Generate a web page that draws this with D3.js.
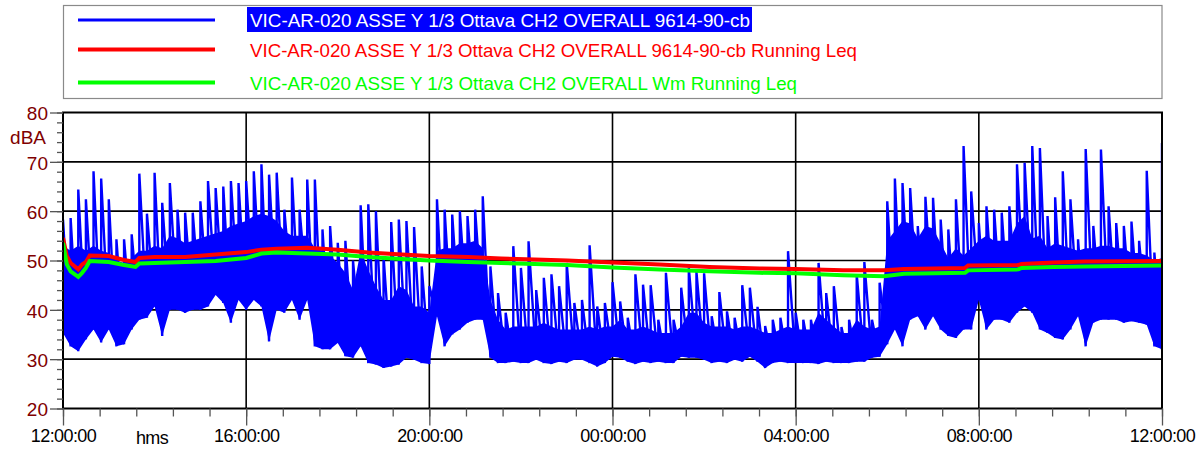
<!DOCTYPE html>
<html>
<head>
<meta charset="utf-8">
<script src="https://cdn.jsdelivr.net/npm/d3@7/dist/d3.min.js"></script>
<style>
  body { margin: 0; background: #fff; }
  svg { display: block; font-family: "Liberation Sans", Arial, sans-serif; }
</style>
</head>
<body>
<svg id="chart" width="1200" height="452"></svg>
<script>
// legend names
var seriesNames = [
  "VIC-AR-020 ASSE Y 1/3 Ottava CH2 OVERALL 9614-90-cb",
  "VIC-AR-020 ASSE Y 1/3 Ottava CH2 OVERALL 9614-90-cb Running Leq",
  "VIC-AR-020 ASSE Y 1/3 Ottava CH2 OVERALL Wm Running Leq"
];
var seriesColors = ["#0000ff", "#ff0000", "#00ff00"];

// blue level, one sample every 10 min from 12:00:00 (peak, top of dense band, floor) in dBA
var stepMin = 10;
var levelPeak = [58.3,58.6,64.4,62.4,68.1,66.6,62.4,54.3,54.3,55.3,67.6,59.5,67.8,61.7,65.7,60.3,59.7,59.7,62,66.1,
  64.7,65,66.1,65.7,66.1,68.1,69.5,67.4,67.8,60.3,66.8,60.3,66.4,66.4,56.3,57,53.6,54,50,61.2,
  61.4,60,50.9,57.8,58.3,58,56.8,48.8,44.8,62.4,60.3,59.3,60,59,60.3,63,48.8,43.4,39.4,52.9,
  48.5,53.9,44,46.5,47.2,44.8,49.5,41.4,42,53.1,40.7,41.4,45.6,41.7,38.4,47.2,45.1,45,38,47.5,
  38,44.5,48.5,47.7,47.4,38.7,43.6,39.7,38.4,45,44.5,40.6,36.7,38,38.4,51.9,39.4,38,38,49.5,
  43.4,44.8,36.5,38,47.2,49.7,38,45.5,62,66.6,65.7,64.7,57,62.9,62.7,58.3,56.3,62.4,73.2,64,
  57.6,61,60.3,59.7,61,69.5,69.8,73.2,72.8,59,62.8,68.1,62.4,54.3,72.6,57,72.5,61,57.6,57,
  57.9,54,68.2,51.6,73.8];
var levelBand = [53,52,53,52,53,52,51.5,50,49.5,50.5,52,52,53,52.5,55,54.5,53.5,54,54.5,55,
  55.5,56,57,57.5,58,59,59.5,59,58,56,55,55,55,52.5,52,51,49.5,47.5,44,52,
  48,44.8,42,42,44.8,44,40.7,40.7,39.4,52,52.5,52.5,53.5,53.5,54,52.5,42,38,36,36.6,
  36.6,36.6,36.6,37.4,36.6,36,36,36,36,36.6,36,36.6,36.6,38,36,36,36.6,36,35.3,35.3,
  35.3,36.6,39.4,39.4,37.4,36.6,36.6,36.6,36,36.6,36.6,36,35.3,35.3,36,36.6,36,36,36,39.4,
  38,36.6,35.3,35.3,38,36.6,36,36.6,54,56,58,57.5,54.5,57,56.5,53.5,50.5,52.5,51,52.5,
  54,55,54,54,54,57.5,59,54.5,55,52.5,53.5,53,52.5,52,52.5,52.5,53,53,52.5,52.5,
  51.5,51.5,51,50,50.5];
var levelFloor = [35.3,32.6,31.6,34,36,33.4,36,32.6,33,36,38,38.4,40.7,34.7,40,40,39.4,40,40,40.7,
  43,41.4,37.4,42,40,42,40.7,33.6,40,39.4,42,38,42,32.6,32,32,33.3,30.6,30.3,32.6,
  29.2,28.9,28.2,28.5,28.9,30.3,29.9,29.2,29,38.7,32.6,35,36,37.4,38,38,30.3,29.2,29.2,29.5,
  29.2,29.2,29.9,29.2,29,29.5,29.2,29.9,29.9,29.2,28.5,29.2,30.5,30.3,29.5,29,29.5,29.2,29.5,29.2,
  29.2,30.5,30.3,30.3,29.9,29.2,29.5,29.2,29.9,29.5,30.5,29.5,28.2,29.2,29.5,29.2,29.2,29.2,29.2,29,
  29.5,29.2,29.2,29.2,29.5,29.5,30.3,30.5,33,36,32.6,38,38.7,36,38.7,36,34.7,34.3,36,36,
  42,36,38,38,37.4,39.4,40.7,39.4,36,35.3,34.3,34,36,38.7,32.6,37.4,38,38,38,37.4,
  37.7,37.4,37,32.6,32];

// running Leq lines, minutes after 12:00:00
var leqMinutes = [0,5,10,20,25,30,35,60,80,95,100,120,160,200,240,260,280,320,360,400,
  444,480,531,574,618,661,720,782,847,913,960,1022,1076,1102,1182,1186,1252,1256,1298,1338,1440];
var leqRunning = [54.6,50.9,49.5,48.2,49.2,49.7,51,50.9,50.1,49.7,50.5,50.7,50.7,51.2,51.7,52.2,52.4,52.6,52.2,51.6,
  51.2,50.9,50.7,50.4,50.2,50,49.6,49.2,48.7,48.4,48.3,48,48,48.3,48.5,49,49.1,49.3,49.6,49.8,49.9];
var leqWm = [53.6,49.2,47.8,46.7,47.5,48.5,49.9,49.7,49.1,48.7,49.4,49.5,49.7,49.9,50.5,51.4,51.6,51.4,51.2,50.7,
  50.3,50,49.7,49.5,49.3,49.1,48.6,48.2,47.8,47.5,47.4,47,46.8,47.3,47.5,48,48.2,48.5,48.7,48.8,49];

var yTicks = [20, 30, 40, 50, 60, 70, 80];
var yUnit = "dBA";
var xUnit = "hms";

var svg = d3.select("#chart");
var pLeft = 63, pRight = 1162, pTop = 112.5, pBottom = 408.5;

var t0 = new Date(2000, 0, 1, 12, 0, 0);
function at(min) { return d3.timeMinute.offset(t0, min); }
var t1 = at(1440);
var x = d3.scaleTime().domain([t0, t1]).range([pLeft, pRight]);
var y = d3.scaleLinear().domain([20, 80]).range([pBottom, pTop]);
var majorX = d3.range(0, 1441, 240).map(at);
var minorX = d3.range(0, 1441, 48).map(at);

// legend box
var lg = svg.append("g");
lg.append("rect").attr("x", 63.5).attr("y", 5.5).attr("width", 1098.5).attr("height", 93)
  .attr("fill", "#fff").attr("stroke", "#8a8a8a").attr("stroke-width", 1.2);
var legY = [20, 49.5, 82.5];
var legW = [500, 607, 547];
lg.append("rect").attr("x", 247).attr("y", 7).attr("width", 505).attr("height", 25).attr("fill", "#0000ff");
seriesNames.forEach(function(name, i) {
  lg.append("line").attr("x1", 78).attr("x2", 215).attr("y1", legY[i]).attr("y2", legY[i])
    .attr("stroke", seriesColors[i]).attr("stroke-width", i == 0 ? 3 : 4);
  lg.append("text").attr("x", 250).attr("y", legY[i] + 7)
    .attr("font-size", 19).attr("textLength", legW[i]).attr("lengthAdjust", "spacingAndGlyphs")
    .attr("fill", i == 0 ? "#fff" : seriesColors[i]).text(name);
});

// grid
var grid = svg.append("g").attr("stroke", "#000").attr("stroke-width", 1.6);
grid.selectAll(".h").data(yTicks.slice(1, -1)).enter().append("line")
  .attr("x1", pLeft).attr("x2", pRight).attr("y1", function(d) { return y(d); }).attr("y2", function(d) { return y(d); });
grid.selectAll(".v").data(majorX.slice(1, -1)).enter().append("line")
  .attr("y1", pTop).attr("y2", pBottom).attr("x1", function(d) { return x(d); }).attr("x2", function(d) { return x(d); });

svg.append("clipPath").attr("id", "clip").append("rect")
  .attr("x", pLeft).attr("y", pTop).attr("width", pRight - pLeft).attr("height", pBottom - pTop);
var plot = svg.append("g").attr("clip-path", "url(#clip)");

// blue level: dense band as area, peaks as a sawtooth line floor -> peak
var rows = levelPeak.map(function(v, i) {
  return { t: at(i * stepMin), hi: v, band: levelBand[i], lo: levelFloor[i] };
});
plot.append("path").datum(rows)
  .attr("d", d3.area().x(function(d) { return x(d.t); })
    .y0(function(d) { return y(d.lo); }).y1(function(d) { return y(d.band); }))
  .attr("fill", "#0000ff");
var zig = [];
rows.forEach(function(d) {
  zig.push({ t: d.t, v: d.lo }, { t: d.t, v: d.hi });
});
plot.append("path").datum(zig)
  .attr("d", d3.line().x(function(d) { return x(d.t); }).y(function(d) { return y(d.v); }))
  .attr("fill", "none").attr("stroke", "#0000ff").attr("stroke-width", 2.4).attr("stroke-linejoin", "bevel");

// running Leq
[leqRunning, leqWm].forEach(function(vals, j) {
  plot.append("path").datum(vals)
    .attr("d", d3.line().x(function(d, i) { return x(at(leqMinutes[i])); }).y(function(d) { return y(d); }))
    .attr("fill", "none").attr("stroke", seriesColors[j + 1]).attr("stroke-width", 4);
});

// frame
svg.append("rect").attr("x", pLeft).attr("y", pTop).attr("width", pRight - pLeft).attr("height", pBottom - pTop)
  .attr("fill", "none").attr("stroke", "#000").attr("stroke-width", 2);

// axes
var yMinor = svg.append("g").attr("transform", "translate(" + pLeft + ",0)")
  .call(d3.axisLeft(y).tickValues(d3.range(20, 81, 2)).tickSize(6).tickFormat(""));
var yAxis = svg.append("g").attr("transform", "translate(" + pLeft + ",0)")
  .call(d3.axisLeft(y).tickValues(yTicks).tickSize(13).tickPadding(2));
yAxis.selectAll("text").attr("fill", "#800000").attr("font-size", 19).attr("dy", "0.38em");
var xMinor = svg.append("g").attr("transform", "translate(0," + pBottom + ")")
  .call(d3.axisBottom(x).tickValues(minorX).tickSize(8).tickFormat(""));
var xAxis = svg.append("g").attr("transform", "translate(0," + pBottom + ")")
  .call(d3.axisBottom(x).tickValues(majorX).tickSize(17).tickPadding(4).tickFormat(d3.timeFormat("%H:%M:%S")));
xAxis.selectAll("text").attr("fill", "#000").attr("font-size", 18).attr("letter-spacing", -0.6);
[yMinor, yAxis, xMinor, xAxis].forEach(function(g) {
  g.select(".domain").remove();
  g.selectAll(".tick line").attr("stroke", "#555").attr("stroke-width", 1.3);
  g.attr("font-family", null);
});

svg.append("text").attr("x", 46).attr("y", 144).attr("text-anchor", "end")
  .attr("font-size", 19).attr("fill", "#800000").text(yUnit);
svg.append("text").attr("x", 152).attr("y", 444).attr("text-anchor", "middle")
  .attr("font-size", 18).attr("letter-spacing", -0.6).attr("fill", "#000").text(xUnit);
</script>
</body>
</html>
